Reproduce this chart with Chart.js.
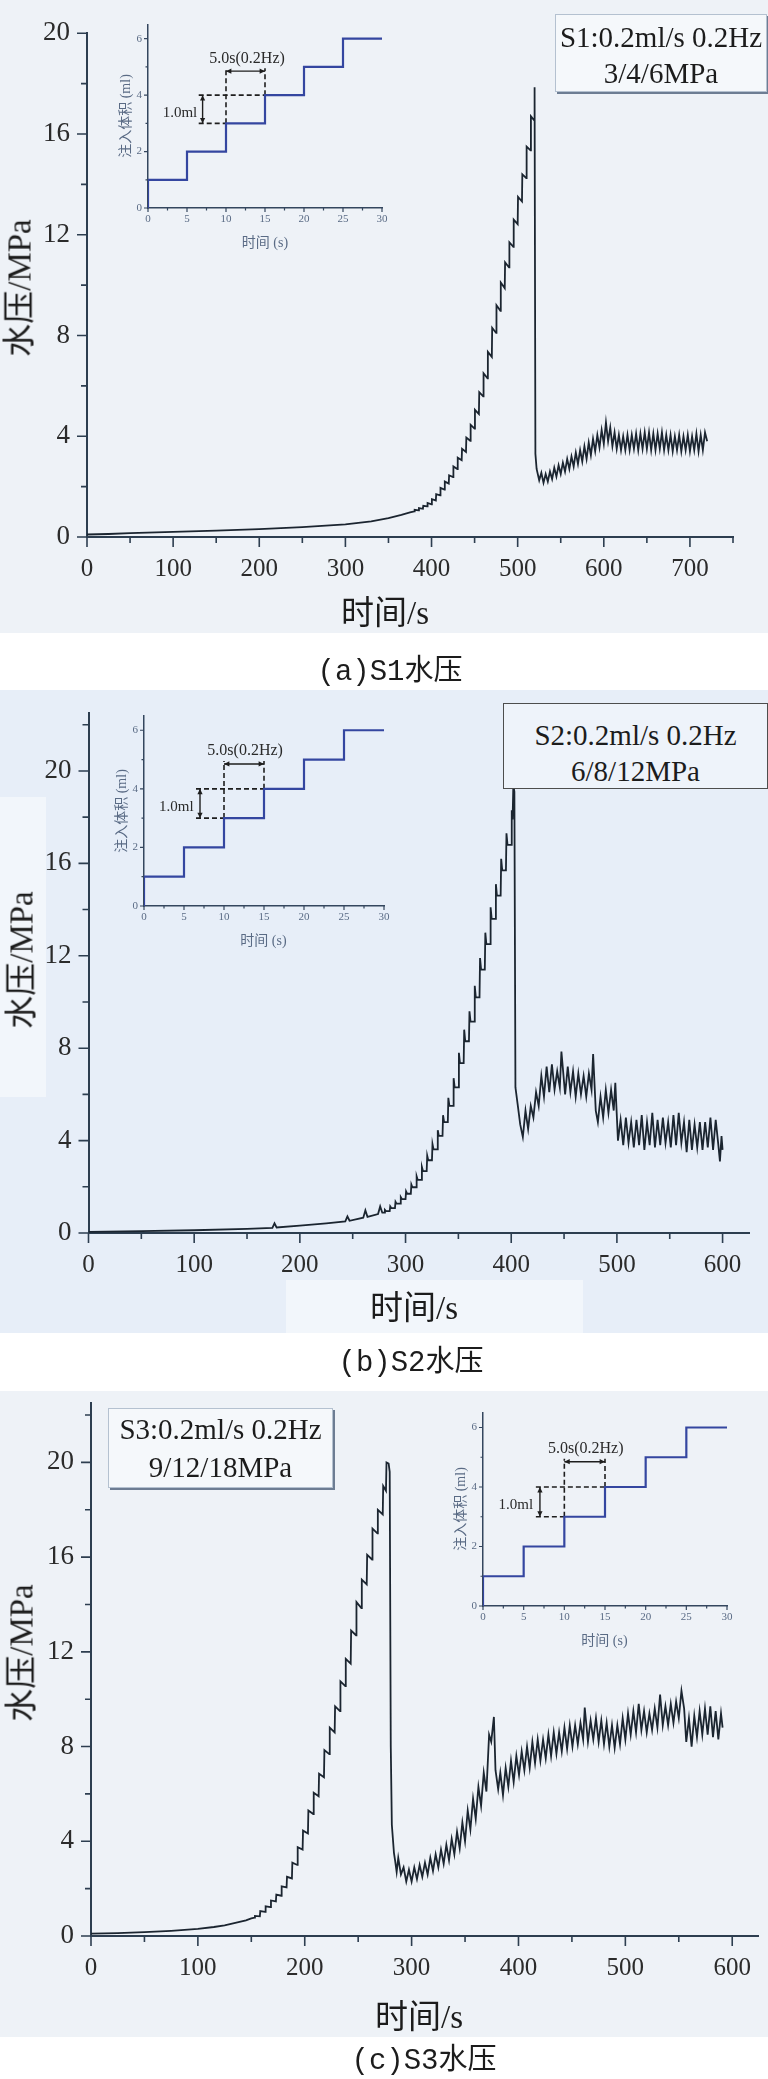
<!DOCTYPE html>
<html>
<head>
<meta charset="utf-8">
<title>水压</title>
<script src="https://cdn.jsdelivr.net/npm/chart.js@4.4.1/dist/chart.umd.min.js"></script>
<style>
  body { margin: 0; background: #fff; }
  #page { position: relative; width: 768px; height: 2079px; overflow: hidden;
          font-family: "Liberation Serif", "Noto Sans CJK SC", serif; color: #1c1c1c; }
  .bg { position: absolute; left: 0; width: 768px; }
  canvas { position: absolute; }
  .t { position: absolute; white-space: nowrap; transform: translate(-50%, -50%); line-height: 1; }
  .rot { transform: translate(-50%, -50%) rotate(-90deg); }
  .axis-title { font-size: 33px; }
  .caption { font-family: "Liberation Mono", "Noto Sans CJK SC", monospace; font-size: 29px; }
  .inset-title { font-size: 14px; color: #5a6b85; }
  .inset-note { font-size: 15px; color: #2a2a2a; }
  .box { position: absolute; box-sizing: border-box; text-align: center; font-size: 29px; white-space: nowrap; }
</style>
</head>
<body>
<div id="page">
  <div class="bg" style="top:0;height:633px;background:#eef2f7"></div>
  <div class="bg" style="top:690px;height:643px;background:#e7eef8"></div>
  <div class="bg" style="top:1391px;height:646px;background:#eef2f7"></div>
  <div style="position:absolute;left:0;top:797px;width:46px;height:300px;background:#f2f6fb"></div>
  <div style="position:absolute;left:286px;top:1280px;width:297px;height:53px;background:#f2f6fb"></div>

  <canvas id="mainA" width="768" height="640" style="left:0;top:0"></canvas>
  <canvas id="mainB" width="768" height="660" style="left:0;top:680px"></canvas>
  <canvas id="mainC" width="768" height="680" style="left:0;top:1370px"></canvas>
  <canvas id="insetA"></canvas>
  <canvas id="insetB"></canvas>
  <canvas id="insetC"></canvas>
  <div id="texts"></div>
</div>

<script>
// S1 水压 (时间 s, MPa)
const s1Data = [
  [0,0.10],[25,0.12],[50,0.15],[100,0.20],[150,0.25],[200,0.31],[250,0.39],[300,0.50],[330,0.62],[350,0.75],[365,0.88],[375,0.98],
  [380,1.02],[380.4,1.08],[385,1.06],[385.4,1.15],[390,1.12],[390.4,1.24],
  [395,1.22],[395.4,1.35],[400,1.30],[400.4,1.50],[405,1.45],[405.4,1.70],[410,1.65],[410.4,1.95],[415,1.88],[415.4,2.20],
  [420,2.12],[420.4,2.45],[425,2.38],[425.4,2.80],[430,2.70],[430.4,3.15],[435,3.05],[435.4,3.50],[440,3.38],[440.4,3.95],
  [445,3.82],[445.4,4.45],[450,4.30],[450.4,5.05],[455,4.88],[455.4,5.75],[460,5.58],[460.4,6.50],[465,6.30],[465.4,7.35],
  [470,7.15],[470.4,8.30],[475,8.10],[475.4,9.20],[480,8.98],[480.4,10.10],[485,9.88],[485.4,10.90],[490,10.70],[490.4,11.70],
  [495,11.52],[495.4,12.60],[500,12.42],[500.4,13.50],[505,13.32],[505.4,14.40],[510,14.25],[510.4,15.50],[515,15.35],[515.4,16.70],
  [519,16.55],[519.4,17.85],[519.9,17.60],[520.6,3.30],[522,2.70],[524,2.40],
  [525,2.25],[527.5,2.55],[530,2.15],[532.5,2.50],[535,2.20],[537.5,2.60],[540,2.30],[542.5,2.75],[545,2.40],[547.5,2.85],
  [550,2.50],[552.5,2.95],[555,2.60],[557.5,3.10],[560,2.70],[562.5,3.20],[565,2.80],[567.5,3.35],[570,2.90],[572.5,3.45],
  [575,3.00],[577.5,3.60],[580,3.10],[582.5,3.75],[585,3.25],[587.5,3.90],[590,3.40],[592.5,4.05],[595,3.55],[597.5,4.25],
  [600,3.70],[602.5,4.55],[605,3.80],[607.5,4.35],[610,3.60],[612.5,4.15],[615,3.50],[617.5,4.05],[620,3.45],[622.5,4.00],
  [625,3.45],[627.5,4.05],[630,3.45],[632.5,4.05],[635,3.50],[637.5,4.10],[640,3.45],[642.5,4.10],[645,3.50],[647.5,4.15],
  [650,3.50],[652.5,4.15],[655,3.45],[657.5,4.10],[660,3.45],[662.5,4.10],[665,3.50],[667.5,4.15],[670,3.45],[672.5,4.05],
  [675,3.45],[677.5,4.05],[680,3.40],[682.5,4.00],[685,3.45],[687.5,4.05],[690,3.40],[692.5,4.00],[695,3.45],[697.5,4.05],
  [700,3.40],[702.5,4.00],[705,3.45],[707.5,4.10],[710,3.40],[712.5,4.05],[715,3.45],[717.5,4.15],[720,3.80]
];

// S2 水压
const s2Data = [
  [0,0.05],[50,0.08],[100,0.12],[150,0.18],[174,0.22],[176,0.42],[178,0.24],[200,0.32],[225,0.42],[243,0.50],[245,0.72],[247,0.53],
  [260,0.66],[262,0.98],[264,0.70],[274,0.82],[276,1.15],[278,0.88],
  [280,0.88],[280.5,1.00],[281.5,0.95],[285,0.95],[285.5,1.15],[286.5,1.08],[290,1.08],[290.5,1.35],[291.5,1.27],
  [295,1.27],[295.5,1.55],[296.5,1.47],[300,1.47],[300.5,1.80],[301.5,1.70],[305,1.70],[305.5,2.10],[306.5,1.98],
  [310,1.98],[310.5,2.45],[311.5,2.30],[315,2.30],[315.5,2.85],[316.5,2.68],[320,2.68],[320.5,3.35],[321.5,3.15],
  [325,3.15],[325.5,3.85],[326.5,3.62],[330,3.62],[330.5,4.45],[331.5,4.20],[335,4.20],[335.5,5.10],[336.5,4.80],
  [340,4.80],[340.5,5.85],[341.5,5.50],[345,5.50],[345.5,6.70],[346.5,6.30],[350,6.30],[350.5,7.80],[351.5,7.35],
  [355,7.35],[355.5,8.80],[356.5,8.30],[360,8.30],[360.5,9.60],[361.5,9.15],[365,9.15],[365.5,10.70],[366.5,10.20],
  [370,10.20],[370.5,11.90],[371.5,11.40],[375,11.40],[375.5,13.00],[376.5,12.50],[380,12.50],[380.5,14.10],[381.5,13.60],
  [385,13.60],[385.5,15.10],[386.5,14.60],[390,14.60],[390.5,16.20],[391.5,15.70],[395,15.70],[395.5,17.30],[396.5,16.80],
  [400,16.80],[400.5,18.30],[401.3,17.90],[402,19.40],[403,19.10],[404,6.30],[406,5.60],[408.5,4.70],[411,4.15],
  [413.5,5.3],[416,4.5],[418.5,5.5],[421,5.0],[423.5,6.1],[426,5.5],[428.5,6.8],[431,5.9],[433.5,7.2],[436,6.1],
  [438.5,7.3],[441,6.2],[443.5,7.0],[446,6.3],[447.5,7.85],[451,6.0],[453.5,7.2],[456,6.1],[458.5,7.0],[461,5.9],
  [463.5,6.9],[466,6.0],[468.5,6.8],[471,5.9],[473.5,6.9],[476,6.2],[477.5,7.75],[480,5.3],[482,4.8],[484.5,5.9],
  [487,5.0],[489.5,6.2],[492,5.2],[494.5,6.2],[497,5.3],[498.5,6.5],[501,4.0],[503.5,4.9],[506,3.8],[508.5,5.0],
  [511,3.9],[513.5,4.8],[516,3.7],[518.5,4.9],[521,3.8],[523.5,5.1],[526,3.6],[528.5,4.8],[531,3.8],[533.5,5.2],
  [536,3.7],[538.5,4.9],[541,3.8],[543.5,5.0],[546,3.9],[548.5,4.8],[551,3.7],[553.5,5.1],[556,3.8],[558.5,5.2],
  [561,3.9],[563.5,4.8],[566,3.5],[568.5,4.9],[571,3.6],[573.5,4.7],[576,3.7],[578.5,4.8],[581,3.6],[583.5,4.8],
  [586,3.7],[588.5,5.0],[591,3.6],[593.5,4.9],[596,3.8],[597.5,3.1],[599,4.2],[600,3.6]
];

// S3 水压
const s3Data = [
  [0,0.10],[25,0.12],[50,0.16],[75,0.22],[100,0.30],[115,0.38],[125,0.45],[135,0.55],[145,0.66],[150,0.74],
  [153,0.78],[153.4,0.85],[158,0.83],[158.4,1.05],[163,1.02],[163.4,1.25],[168,1.22],[168.4,1.50],[173,1.46],[173.4,1.75],
  [178,1.70],[178.4,2.10],[183,2.05],[183.4,2.50],[188,2.43],[188.4,3.10],[193,3.00],[193.4,3.75],[198,3.65],[198.4,4.45],
  [203,4.33],[203.4,5.30],[208,5.15],[208.4,6.05],[213,5.90],[213.4,6.85],[218,6.70],[218.4,7.85],[223,7.68],[223.4,8.80],
  [228,8.60],[228.4,9.70],[233,9.50],[233.4,10.75],[238,10.55],[238.4,11.70],[243,11.50],[243.4,12.90],[248,12.70],[248.4,14.10],
  [253,13.85],[253.4,15.05],[258,14.85],[258.4,16.10],[263,15.90],[263.4,17.20],[268,17.00],[268.4,18.00],[273,17.80],[273.4,19.00],
  [276,18.80],[276.5,20.00],[278.5,19.95],[279.5,19.60],[280.5,8.00],[281.5,4.70],[283.5,3.50],[284.5,3.20],
  [286,2.7],[287.5,3.3],[290,2.6],[292.5,2.9],[295,2.3],[297.5,2.8],[300,2.3],[302.5,2.9],[305,2.4],[307.5,3.0],
  [310,2.5],[312.5,3.1],[315,2.6],[317.5,3.3],[320,2.75],[322.5,3.45],[325,2.9],[327.5,3.65],[330,3.05],[332.5,3.85],
  [335,3.2],[337.5,4.1],[340,3.45],[342.5,4.4],[345,3.7],[347.5,4.8],[350,4.0],[352.5,5.3],[355,4.5],[357.5,5.8],
  [360,4.95],[362.5,6.3],[365,5.5],[367.5,6.9],[370,6.1],[372.5,8.5],[374.5,8.2],[377,9.25],[378.5,7.0],[381,6.2],
  [383,6.9],[385.5,5.95],[388,7.1],[390.5,6.3],[393,7.4],[395.5,6.5],[398,7.6],[400.5,6.8],[403,7.8],[405.5,7.0],
  [408,8.0],[410.5,7.1],[413,8.2],[415.5,7.3],[418,8.3],[420.5,7.4],[423,8.3],[425.5,7.5],[428,8.5],[430.5,7.6],
  [433,8.6],[435.5,7.7],[438,8.6],[440.5,7.8],[443,8.8],[445.5,7.9],[448,8.9],[450.5,8.0],[453,8.9],[455.5,8.1],
  [458,9.0],[460.5,8.3],[462,9.65],[465,8.2],[467.5,9.1],[470,8.3],[472.5,9.2],[475,8.2],[477.5,9.1],[480,8.1],
  [482.5,9.0],[485,8.0],[487.5,8.9],[490,7.95],[492.5,8.9],[495,8.1],[497.5,9.2],[500,8.3],[502.5,9.4],[505,8.5],
  [507.5,9.5],[510,8.6],[512.5,9.8],[515,8.7],[517.5,9.5],[520,8.6],[522.5,9.4],[525,8.7],[527.5,9.6],[530,8.8],
  [532.5,10.2],[535,8.9],[537.5,9.7],[540,8.9],[542.5,9.8],[545,9.0],[547.5,9.9],[550,9.2],[552.5,10.35],[555,9.6],
  [557,8.2],[559.5,9.2],[562,8.0],[564.5,9.3],[567,8.4],[569.5,9.5],[572,8.5],[574.5,9.6],[577,8.5],[579.5,9.7],
  [582,8.4],[584.5,9.5],[587,8.3],[589.5,9.4],[591,8.8]
];

// 注入体积阶梯 (inset)
const injTime = [0, 0, 5, 5, 10, 10, 15, 15, 20, 20, 25, 25, 30];
const injVolume = [0, 1, 1, 2, 2, 3, 3, 4, 4, 5, 5, 6, 6];
const guideLines = [
  [[6.5, 4], [15, 4]],
  [[6.5, 3], [10, 3]],
  [[10, 3], [10, 4.95]],
  [[15, 4], [15, 4.95]]
];
const guideArrows = [[10, 4.85, 15, 4.85], [7, 3, 7, 4]];
const guideNotes = [['1.0ml', 4.1, 3.42], ['5.0s(0.2Hz)', 12.7, 5.3]];

// ticks
const s1XMajor = [0, 100, 200, 300, 400, 500, 600, 700];
const s1XMinor = [50, 150, 250, 350, 450, 550, 650, 750];
const s23XMajor = [0, 100, 200, 300, 400, 500, 600];
const s23XMinor = [50, 150, 250, 350, 450, 550];
const yMajor = [0, 4, 8, 12, 16, 20];
const s1YMinor = [2, 6, 10, 14, 18];
const s23YMinor = [2, 6, 10, 14, 18, 22];
const insetXMajor = [0, 5, 10, 15, 20, 25, 30];
const insetXMinor = [2.5, 7.5, 12.5, 17.5, 22.5, 27.5];
const insetYMajor = [0, 2, 4, 6];
const insetYMinor = [1, 3, 5];

const yTitle = '水压/MPa';
const xTitle = '时间/s';
const insetYTitle = '注入体积 (ml)';
const insetXTitle = '时间 (s)';
const captions = ['(a)S1水压', '(b)S2水压', '(c)S3水压'];
const boxLines = [
  ['S1:0.2ml/s 0.2Hz', '3/4/6MPa'],
  ['S2:0.2ml/s 0.2Hz', '6/8/12MPa'],
  ['S3:0.2ml/s 0.2Hz', '9/12/18MPa']
];

Chart.defaults.font.family = 'Liberation Serif';

const axisTicks = {
  id: 'axisTicks',
  afterDatasetsDraw(chart, args, o) {
    const { ctx, chartArea: a } = chart;
    const xs = chart.scales.x, ys = chart.scales.y;
    ctx.save();
    ctx.strokeStyle = o.color;
    ctx.lineWidth = o.width;
    ctx.beginPath();
    o.xMajor.forEach(v => { const p = xs.getPixelForValue(v); ctx.moveTo(p, a.bottom); ctx.lineTo(p, a.bottom + o.major); });
    o.xMinor.forEach(v => { const p = xs.getPixelForValue(v); ctx.moveTo(p, a.bottom); ctx.lineTo(p, a.bottom + o.minor); });
    o.yMajor.forEach(v => { const p = ys.getPixelForValue(v); ctx.moveTo(a.left, p); ctx.lineTo(a.left - o.major, p); });
    o.yMinor.forEach(v => { const p = ys.getPixelForValue(v); ctx.moveTo(a.left, p); ctx.lineTo(a.left - o.minor, p); });
    ctx.stroke();
    ctx.restore();
  }
};

function arrowHead(ctx, tx, ty, fx, fy, size) {
  const ang = Math.atan2(ty - fy, tx - fx);
  ctx.beginPath();
  ctx.moveTo(tx, ty);
  ctx.lineTo(tx - size * Math.cos(ang - 0.45), ty - size * Math.sin(ang - 0.45));
  ctx.lineTo(tx - size * Math.cos(ang + 0.45), ty - size * Math.sin(ang + 0.45));
  ctx.closePath();
  ctx.fill();
}

const arrowMarks = {
  id: 'arrowMarks',
  afterDatasetsDraw(chart, args, o) {
    if (!o.list) return;
    const ctx = chart.ctx, xs = chart.scales.x, ys = chart.scales.y;
    ctx.save();
    ctx.strokeStyle = '#1e1e1e';
    ctx.fillStyle = '#1e1e1e';
    ctx.lineWidth = 1.4;
    o.list.forEach(a => {
      const x1 = xs.getPixelForValue(a[0]), y1 = ys.getPixelForValue(a[1]);
      const x2 = xs.getPixelForValue(a[2]), y2 = ys.getPixelForValue(a[3]);
      ctx.beginPath(); ctx.moveTo(x1, y1); ctx.lineTo(x2, y2); ctx.stroke();
      arrowHead(ctx, x2, y2, x1, y1, 6);
      arrowHead(ctx, x1, y1, x2, y2, 6);
    });
    ctx.restore();
  }
};

const texts = document.getElementById('texts');
function addText(str, x, y, cls, style) {
  const d = document.createElement('div');
  d.className = 't ' + cls;
  d.textContent = str;
  d.style.left = x + 'px';
  d.style.top = y + 'px';
  if (style) Object.assign(d.style, style);
  texts.appendChild(d);
  return d;
}

function buildMain(p) {
  const canvas = document.getElementById(p.id);
  const W = canvas.width, H = canvas.height;
  const xTicks = p.xMajor.concat(p.xMinor).sort((a, b) => a - b);
  const yTicks = p.yMajor.concat(p.yMinor).sort((a, b) => a - b);
  return new Chart(canvas, {
    type: 'line',
    data: {
      datasets: [{
        data: p.data.map(d => ({ x: d[0], y: d[1] })),
        borderColor: '#1b2530', borderWidth: 1.8, pointRadius: 0, tension: 0, fill: false
      }]
    },
    options: {
      responsive: false, animation: false, events: [],
      layout: { padding: { top: p.areaTop, right: W - p.right, left: 0, bottom: 0 } },
      plugins: {
        legend: { display: false }, tooltip: { enabled: false },
        axisTicks: { color: '#2d3e50', width: 1.6, major: 10, minor: 6,
          xMajor: p.xMajor, xMinor: p.xMinor, yMajor: p.yMajor, yMinor: p.yMinor }
      },
      scales: {
        x: {
          type: 'linear', min: 0, max: p.xMax,
          afterBuildTicks: s => { s.ticks = xTicks.map(v => ({ value: v })); },
          afterFit: s => { s.height = H - p.areaBottom; },
          grid: { display: false, drawTicks: false },
          border: { display: true, color: '#2d3e50', width: 2 },
          ticks: { autoSkip: false, maxRotation: 0, padding: 17, color: '#2b2b2b',
            font: { family: 'Liberation Serif', size: 25 },
            callback: v => p.xMajor.includes(v) ? String(v) : '' }
        },
        y: {
          type: 'linear', min: 0, max: p.yMax,
          afterBuildTicks: s => { s.ticks = yTicks.map(v => ({ value: v })); },
          afterFit: s => { s.width = p.left; },
          grid: { display: false, drawTicks: false },
          border: { display: true, color: '#2d3e50', width: 2 },
          ticks: { autoSkip: false, padding: 17, color: '#2b2b2b',
            font: { family: 'Liberation Serif', size: 27 },
            callback: v => p.yMajor.includes(v) ? String(v) : '' }
        }
      }
    },
    plugins: [axisTicks]
  });
}

function buildInset(p) {
  const canvas = document.getElementById(p.id);
  const padL = 45, padT = 10, padR = 20, padB = 30;
  const W = Math.round(p.right - p.left + padL + padR);
  const H = Math.round(p.bottom - p.top + padT + padB);
  const cx = p.left - padL, cy = p.top - padT;
  canvas.width = W; canvas.height = H;
  canvas.style.left = cx + 'px';
  canvas.style.top = cy + 'px';
  const xTicks = insetXMajor.concat(insetXMinor).sort((a, b) => a - b);
  const yTicks = insetYMajor.concat(insetYMinor).sort((a, b) => a - b);
  const datasets = [{
    data: injTime.map((t, i) => ({ x: t, y: injVolume[i] })),
    borderColor: '#3446a0', borderWidth: 2.2, pointRadius: 0, tension: 0, fill: false
  }];
  guideLines.forEach(g => datasets.push({
    data: g.map(pt => ({ x: pt[0], y: pt[1] })),
    borderColor: '#1e1e1e', borderWidth: 1.6, borderDash: [5, 3], pointRadius: 0, fill: false
  }));
  const chart = new Chart(canvas, {
    type: 'line',
    data: { datasets },
    options: {
      responsive: false, animation: false, events: [],
      layout: { padding: { top: padT, right: padR, left: 0, bottom: 0 } },
      plugins: {
        legend: { display: false }, tooltip: { enabled: false },
        axisTicks: { color: '#34465e', width: 1.2, major: 4, minor: 2.5,
          xMajor: insetXMajor, xMinor: insetXMinor, yMajor: insetYMajor, yMinor: insetYMinor },
        arrowMarks: { list: guideArrows }
      },
      scales: {
        x: {
          type: 'linear', min: 0, max: 30,
          afterBuildTicks: s => { s.ticks = xTicks.map(v => ({ value: v })); },
          afterFit: s => { s.height = padB; },
          grid: { display: false, drawTicks: false },
          border: { display: true, color: '#34465e', width: 1.5 },
          ticks: { autoSkip: false, maxRotation: 0, padding: 5, color: '#5a6b85',
            font: { family: 'Liberation Serif', size: 11 },
            callback: v => insetXMajor.includes(v) ? String(v) : '' }
        },
        y: {
          type: 'linear', min: 0, max: 6.5,
          afterBuildTicks: s => { s.ticks = yTicks.map(v => ({ value: v })); },
          afterFit: s => { s.width = padL; },
          grid: { display: false, drawTicks: false },
          border: { display: true, color: '#34465e', width: 1.5 },
          ticks: { autoSkip: false, padding: 6, color: '#5a6b85',
            font: { family: 'Liberation Serif', size: 11 },
            callback: v => insetYMajor.includes(v) ? String(v) : '' }
        }
      }
    },
    plugins: [axisTicks, arrowMarks]
  });
  const a = chart.chartArea;
  addText(insetXTitle, cx + (a.left + a.right) / 2, cy + a.bottom + 35, 'inset-title');
  addText(insetYTitle, cx + a.left - 22, cy + (a.top + a.bottom) / 2, 'inset-title rot');
  guideNotes.forEach(n => {
    const fs = n[0] === '1.0ml' ? '15px' : '16px';
    addText(n[0], cx + chart.scales.x.getPixelForValue(n[1]), cy + chart.scales.y.getPixelForValue(n[2]),
      'inset-note', { fontSize: fs });
  });
  return chart;
}

buildMain({ id: 'mainA', data: s1Data, left: 87, right: 733, areaTop: 18.6, areaBottom: 537,
  xMax: 750, yMax: 20, xMajor: s1XMajor, xMinor: s1XMinor, yMajor: yMajor, yMinor: s1YMinor });
buildMain({ id: 'mainB', data: s2Data, left: 88.5, right: 749, areaTop: 19.7, areaBottom: 553,
  xMax: 625, yMax: 22.5, xMajor: s23XMajor, xMinor: s23XMinor, yMajor: yMajor, yMinor: s23YMinor });
buildMain({ id: 'mainC', data: s3Data, left: 91, right: 767.3, areaTop: 23.3, areaBottom: 566,
  xMax: 625, yMax: 22.5, xMajor: s23XMajor, xMinor: s23XMinor, yMajor: yMajor, yMinor: s23YMinor });

buildInset({ id: 'insetA', left: 148, right: 382, top: 22, bottom: 208 });
buildInset({ id: 'insetB', left: 143.5, right: 383.5, top: 712.7, bottom: 905.6 });
buildInset({ id: 'insetC', left: 482.5, right: 726.5, top: 1409.7, bottom: 1606 });

// axis titles and captions
addText(xTitle, 385, 613, 'axis-title');
addText(yTitle, 20, 288, 'axis-title rot');
addText(xTitle, 414, 1308, 'axis-title');
addText(yTitle, 22, 960, 'axis-title rot');
addText(xTitle, 419, 2017, 'axis-title');
addText(yTitle, 22, 1653, 'axis-title rot');
addText(captions[0], 390, 672, 'caption');
addText(captions[1], 411, 1363, 'caption');
addText(captions[2], 424, 2061, 'caption');

// condition boxes
function addBox(lines, left, top, w, h, lineH, padTop, style) {
  const b = document.createElement('div');
  b.className = 'box';
  Object.assign(b.style, { left: left + 'px', top: top + 'px', width: w + 'px', height: h + 'px',
    lineHeight: lineH + 'px', paddingTop: padTop + 'px' }, style);
  lines.forEach(l => { const d = document.createElement('div'); d.textContent = l; b.appendChild(d); });
  texts.appendChild(b);
}
const softBox = { border: '1px solid #b4c1d0', background: '#f5f8fb', boxShadow: '2px 2px 0 #6d7d93' };
addBox(boxLines[0], 555, 14, 212, 78, 36, 3.5, softBox);
addBox(boxLines[1], 503, 703, 265, 86, 36, 12.5, { border: '1.5px solid #4d4d4d', background: '#eef3fa' });
addBox(boxLines[2], 108, 1408, 225, 80, 38, 1, softBox);
</script>
</body>
</html>
